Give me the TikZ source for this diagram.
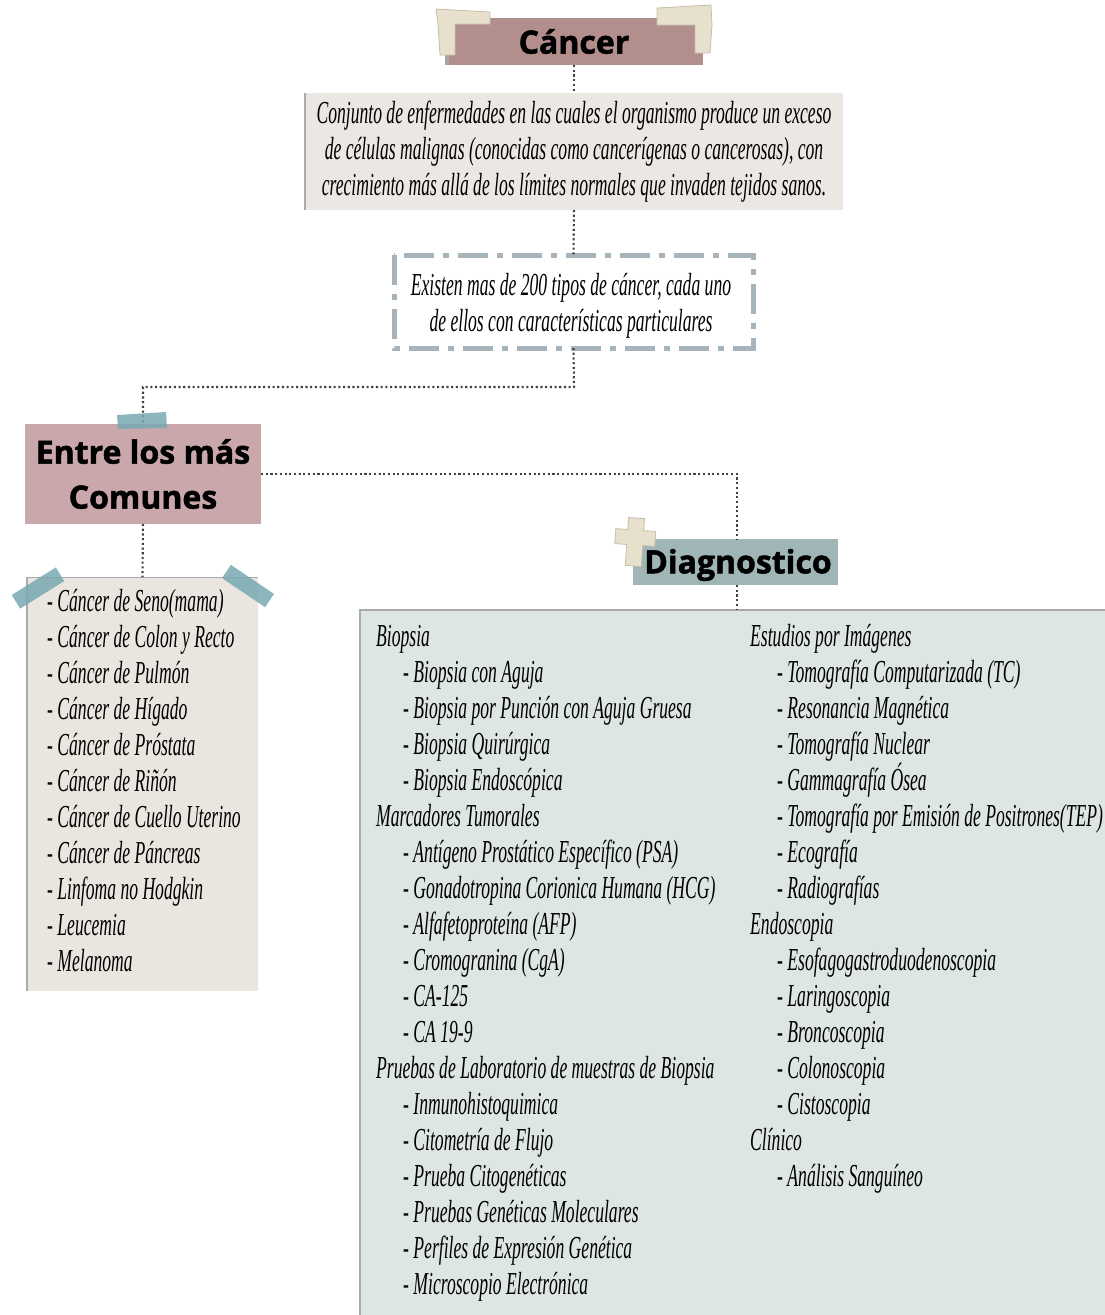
\documentclass[tikz,border=0pt]{standalone}
\usepackage{fontspec}
\setmainfont{Liberation Serif}
\newfontfamily\condfont[FakeStretch=0.55]{Liberation Serif}
\newfontfamily\headfont[BoldFeatures={FakeBold=1.6}]{Open Sans}
\definecolor{cancerfill}{RGB}{178,142,140}
\definecolor{deffill}{RGB}{235,231,226}
\definecolor{dashgray}{RGB}{168,180,188}
\definecolor{comunfill}{RGB}{201,167,170}
\definecolor{listfill}{RGB}{235,229,224}
\definecolor{diagfill}{RGB}{160,182,182}
\definecolor{bigfill}{RGB}{221,229,229}
\definecolor{tealtape}{RGB}{120,168,178}
\definecolor{beigetape}{RGB}{230,224,204}
\definecolor{beigeedge}{RGB}{196,190,170}
\definecolor{edgegray}{RGB}{170,170,170}
\begin{document}
\begin{tikzpicture}[x=1pt,y=-1pt,
  panel/.style={draw=none, inner sep=0pt, outer sep=0pt},
  headtext/.style={font=\headfont\bfseries\fontsize{32}{45}\selectfont, text=black},
  bodytext/.style={font=\condfont\itshape\fontsize{32}{36}\selectfont, text=black},
  item/.style={bodytext, anchor=base west, inner sep=0pt},
  link/.style={draw=black!75, line width=2.1pt, dash pattern=on 2.1pt off 2.6pt},
  leftedge/.style={draw=edgegray, line width=2pt},
  tape/.style={fill=tealtape, fill opacity=0.85, draw=none},
  paper/.style={fill=beigetape, draw=beigeedge, line width=0.8pt}
]
\useasboundingbox (0,0) rectangle (1105,1315);

% ---- title
\node[panel, fill=cancerfill, minimum width=258, minimum height=47, headtext] (cancer) at (574,41.5) {Cáncer};
\draw[draw=black!35, line width=4pt] ([xshift=2pt]cancer.north west) -- ([xshift=2pt]cancer.south west);
\draw[paper] (436,9) -- (490,12) -- (490,24) -- (455,24) -- (455,55) -- (440,55) -- (438,24) -- cycle;
\draw[paper] (657,8) -- (711,5) -- (712,25) -- (710,53) -- (695,53) -- (695,25) -- (657,25) -- cycle;

% ---- definition
\node[panel, fill=deffill, minimum width=538, minimum height=117, bodytext, align=center] (def) at (574,151.5)
  {Conjunto de enfermedades en las cuales el organismo produce un exceso\\
   de células malignas (conocidas como cancerígenas o cancerosas), con\\
   crecimiento más allá de los límites normales que invaden tejidos sanos.};
\draw[leftedge] (def.north west) -- (def.south west);

% ---- types note
\node[panel, fill=white, minimum width=359, minimum height=93] (tipos) at (573.5,301.5) {};
\node[bodytext, align=center, inner sep=0pt] (tiposlbl) at (571,306)
  {Existen mas de 200 tipos de cáncer, cada uno\\ de ellos con características particulares};
\draw[dashgray, line width=5pt, dash pattern=on 30pt off 9pt on 6pt off 9pt]
  (tipos.north west) rectangle (tipos.south east);

% ---- common types
\node[panel, fill=comunfill, minimum width=236, minimum height=100, headtext, align=center] (comunes) at (143,474)
  {Entre los más\\Comunes};
\node[panel, fill=listfill, minimum width=231, minimum height=414] (lista) at (142.5,784) {};
\draw[leftedge] (lista.north west) -- (lista.south west);
\draw[draw=edgegray, line width=1pt] (lista.north west) -- (lista.north east);

% ---- diagnosis
\node[panel, fill=diagfill, minimum width=205, minimum height=46] (diag) at (735.5,562) {};
\node[headtext, inner sep=0pt] (diaglbl) at (738,565) {Diagnostico};
\node[panel, fill=bigfill, minimum width=745, minimum height=705] (estudios) at (732.5,962.5) {};
\draw[draw=edgegray, line width=1.5pt] (estudios.south west) -- (estudios.north west) -- (estudios.north east);

% ---- connectors
\draw[link] (cancer.south) -- (def.north);
\draw[link] (def.south) -- (tipos.north);
\coordinate (bend) at (574,387);
\draw[link] (tipos.south) -- (bend) -| (comunes.north);
\coordinate (turn) at (737,474);
\draw[link] (comunes.east) -- (turn) -- (turn |- diag.north);
\draw[link] (comunes.south) -- (lista.north);
\draw[link] (turn |- diag.south) -- (turn |- estudios.north);

% ---- tapes
\draw[tape] (117,415) -- (166,412) -- (167,428) -- (118,429) -- cycle;
\draw[tape, rotate around={32:(38,588)}] (12,580) rectangle (64,596);
\draw[tape, rotate around={-34:(248,586)}] (222,578) rectangle (274,594);
\draw[paper, rotate around={-4:(635,541)}]
  (627,518) -- (643,518) -- (643,530) -- (655,530) -- (655,545) -- (643,545) -- (643,566)
  -- (627,566) -- (627,545) -- (615,545) -- (615,530) -- (627,530) -- cycle;

% ---- list of common cancers
\foreach \t [count=\i from 0] in {Cáncer de Seno(mama), Cáncer de Colon y Recto, Cáncer de Pulmón,
  Cáncer de Hígado, Cáncer de Próstata, Cáncer de Riñón, Cáncer de Cuello Uterino,
  Cáncer de Páncreas, Linfoma no Hodgkin, Leucemia, Melanoma}
  \node[item] (comun\i) at (47,{611+36*\i}) {- \t};

% ---- diagnosis, left column
\node[item] (biop) at (376,646) {Biopsia};
\foreach \t [count=\i from 1] in {Biopsia con Aguja, Biopsia por Punción con Aguja Gruesa,
  Biopsia Quirúrgica, Biopsia Endoscópica}
  \node[item] (biop\i) at (403,{646+36*\i}) {- \t};
\node[item] (marc) at (376,826) {Marcadores Tumorales};
\foreach \t [count=\i from 1] in {Antígeno Prostático Específico (PSA), Gonadotropina Corionica Humana (HCG),
  Alfafetoproteína (AFP), Cromogranina (CgA), CA-125, CA 19-9}
  \node[item] (marc\i) at (403,{826+36*\i}) {- \t};
\node[item] (lab) at (376,1078) {Pruebas de Laboratorio de muestras de Biopsia};
\foreach \t [count=\i from 1] in {Inmunohistoquimica, Citometría de Flujo, Prueba Citogenéticas,
  Pruebas Genéticas Moleculares, Perfiles de Expresión Genética, Microscopio Electrónica}
  \node[item] (lab\i) at (403,{1078+36*\i}) {- \t};

% ---- diagnosis, right column
\node[item] (img) at (750,646) {Estudios por Imágenes};
\foreach \t [count=\i from 1] in {Tomografía Computarizada (TC), Resonancia Magnética, Tomografía Nuclear,
  Gammagrafía Ósea, Tomografía por Emisión de Positrones(TEP), Ecografía, Radiografías}
  \node[item] (img\i) at (777,{646+36*\i}) {- \t};
\node[item] (endo) at (750,934) {Endoscopia};
\foreach \t [count=\i from 1] in {Esofagogastroduodenoscopia, Laringoscopia, Broncoscopia,
  Colonoscopia, Cistoscopia}
  \node[item] (endo\i) at (777,{934+36*\i}) {- \t};
\node[item] (clin) at (750,1150) {Clínico};
\node[item] (clin1) at (777,1186) {- Análisis Sanguíneo};
\end{tikzpicture}
\end{document}
